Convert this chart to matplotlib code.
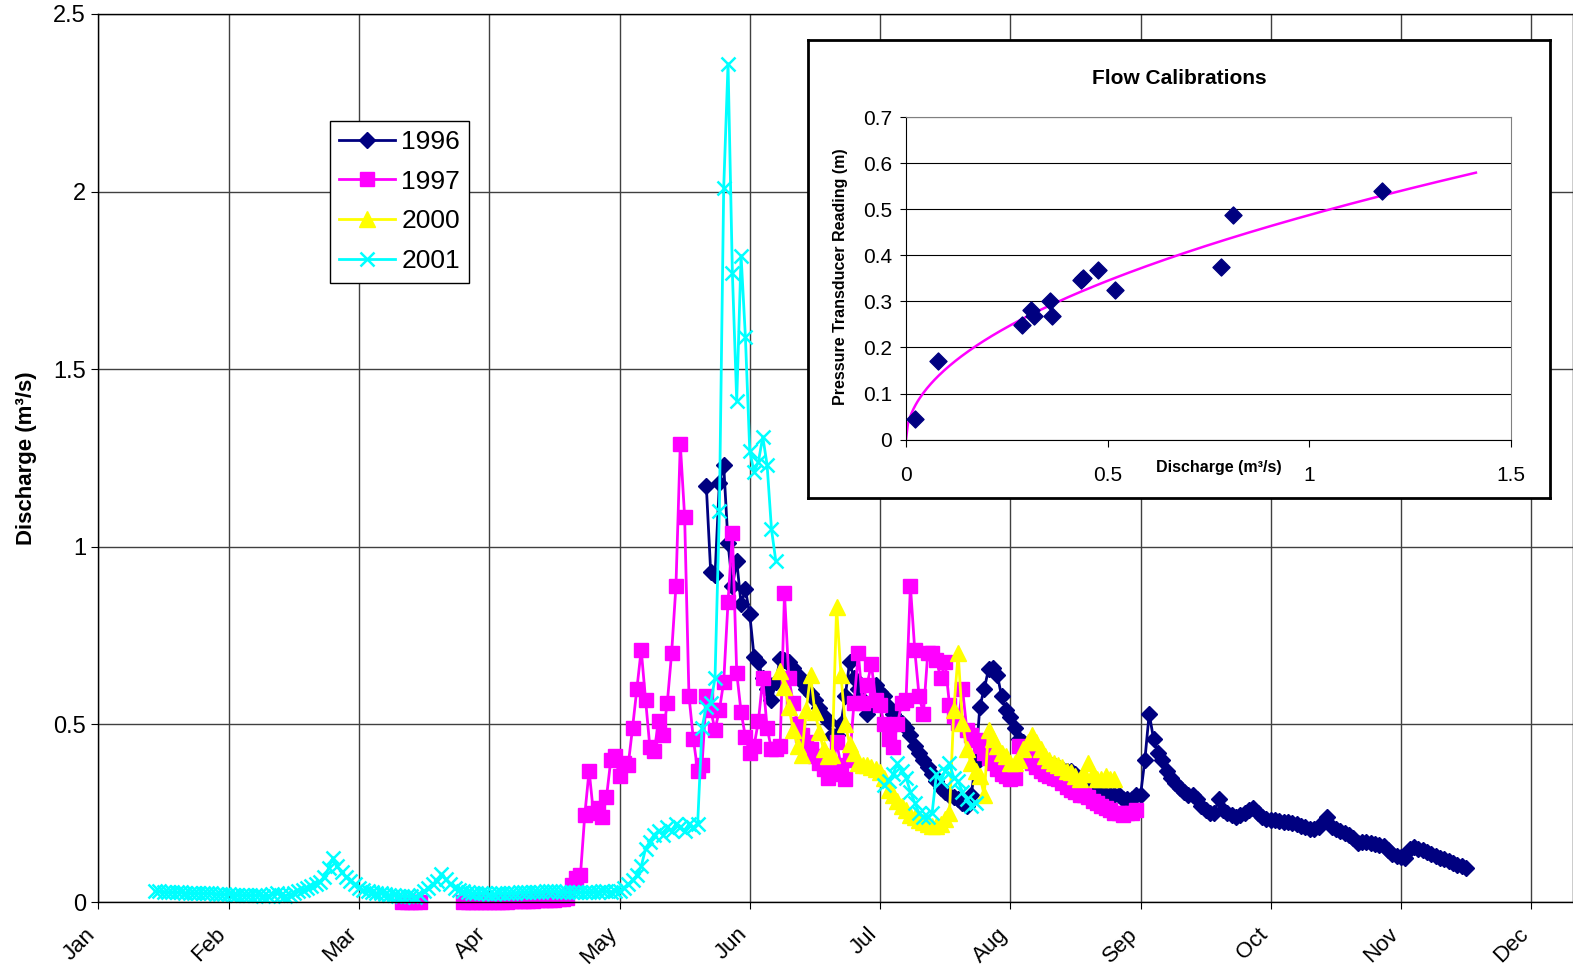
import numpy as np
import matplotlib
matplotlib.use("Agg")
from matplotlib import pyplot as plt

plt.rcParams['font.family'] = ['Liberation Sans', 'DejaVu Sans']

# month axis (days from 1 Jan, one tick every 30 days as in the original sheet)
months = ['Jan', 'Feb', 'Mar', 'Apr', 'May', 'Jun', 'Jul', 'Aug', 'Sep', 'Oct', 'Nov', 'Dec']
month_days = [0, 30, 60, 90, 120, 150, 180, 210, 240, 270, 300, 330]

# 1996 - daily discharge (m3/s) starting day 140
q1996_start = 140
q1996 = [1.17, 0.93, 0.92, 1.18, 1.23, 1.01, 0.89, 0.96, 0.84, 0.88,
         0.81, 0.69, 0.675, 0.63, 0.60, 0.57, 0.62, 0.685, 0.68, 0.675,
         0.66, 0.64, 0.62, 0.60, 0.585, 0.57, 0.545, 0.525, 0.51, 0.47,
         0.47, 0.50, 0.58, 0.675, 0.63, 0.60, 0.57, 0.53, 0.56, 0.61,
         0.59, 0.58, 0.55, 0.53, 0.51, 0.505, 0.49, 0.47, 0.44, 0.42,
         0.40, 0.38, 0.36, 0.34, 0.32, 0.31, 0.30, 0.295, 0.29, 0.28,
         0.27, 0.30, 0.39, 0.55, 0.60, 0.655, 0.66, 0.64, 0.58, 0.54,
         0.52, 0.49, 0.46, 0.45, 0.44, 0.43, 0.42, 0.41, 0.40, 0.39,
         0.385, 0.38, 0.375, 0.37, 0.37, 0.36, 0.35, 0.345, 0.335, 0.32,
         0.31, 0.31, 0.30, 0.30, 0.30, 0.30, 0.29, 0.29, 0.29, 0.30,
         0.30, 0.40, 0.53, 0.46, 0.42, 0.40, 0.37, 0.35, 0.335, 0.32,
         0.31, 0.30, 0.30, 0.29, 0.27, 0.26, 0.25, 0.25, 0.29, 0.26,
         0.25, 0.245, 0.24, 0.245, 0.25, 0.26, 0.265, 0.25, 0.24, 0.235,
         0.23, 0.23, 0.228, 0.226, 0.225, 0.222, 0.22, 0.215, 0.21, 0.205,
         0.205, 0.21, 0.225, 0.24, 0.21, 0.205, 0.20, 0.195, 0.19, 0.18,
         0.165, 0.17, 0.168, 0.165, 0.162, 0.16, 0.158, 0.145, 0.135, 0.13,
         0.128, 0.125, 0.15, 0.155, 0.15, 0.145, 0.14, 0.135, 0.13, 0.125,
         0.12, 0.115, 0.11, 0.105, 0.10, 0.095]

# 1997 - two runs of records
q1997a_start = 70
q1997a = [0.0, 0.0, 0.0, 0.0, 0.0]
q1997b_start = 84
q1997b = [0.0, 0.0, 0.0, 0.0, 0.0, 0.0, 0.0, 0.0, 0.0, 0.0,
          0.0, 0.002, 0.002, 0.003, 0.003, 0.004, 0.004, 0.005, 0.005, 0.006,
          0.006, 0.007, 0.008, 0.009, 0.010, 0.048, 0.068, 0.075, 0.245, 0.37,
          0.25, 0.265, 0.24, 0.295, 0.40, 0.41, 0.355, 0.39, 0.385, 0.49,
          0.60, 0.71, 0.57, 0.435, 0.425, 0.51, 0.47, 0.56, 0.70, 0.89,
          1.29, 1.085, 0.58, 0.46, 0.37, 0.385, 0.58, 0.54, 0.485, 0.54,
          0.62, 0.845, 1.04, 0.645, 0.535, 0.465, 0.42, 0.44, 0.51, 0.63,
          0.49, 0.43, 0.43, 0.44, 0.87, 0.63, 0.56, 0.50, 0.47, 0.45,
          0.43, 0.41, 0.39, 0.375, 0.35, 0.36, 0.45, 0.385, 0.345, 0.40,
          0.56, 0.70, 0.56, 0.61, 0.67, 0.57, 0.555, 0.50, 0.46, 0.435,
          0.50, 0.56, 0.57, 0.89, 0.71, 0.58, 0.53, 0.70, 0.70, 0.68,
          0.63, 0.675, 0.555, 0.525, 0.505, 0.60, 0.485, 0.47, 0.455, 0.44,
          0.42, 0.405, 0.39, 0.375, 0.36, 0.355, 0.345, 0.35, 0.44, 0.42,
          0.41, 0.39, 0.38, 0.37, 0.36, 0.355, 0.35, 0.345, 0.335, 0.325,
          0.315, 0.31, 0.30, 0.30, 0.295, 0.285, 0.28, 0.27, 0.265, 0.26,
          0.25, 0.25, 0.245, 0.25, 0.25, 0.26]

# 2000
q2000_start = 157
q2000 = [0.65, 0.605, 0.55, 0.485, 0.44, 0.415, 0.54, 0.64, 0.535, 0.48,
         0.43, 0.41, 0.415, 0.83, 0.64, 0.50, 0.445, 0.42, 0.39, 0.385,
         0.385, 0.38, 0.375, 0.365, 0.35, 0.315, 0.30, 0.285, 0.27, 0.26,
         0.245, 0.24, 0.23, 0.225, 0.22, 0.215, 0.215, 0.22, 0.235, 0.25,
         0.54, 0.70, 0.505, 0.43, 0.39, 0.37, 0.355, 0.30, 0.485, 0.46,
         0.44, 0.42, 0.41, 0.39, 0.39, 0.40, 0.43, 0.45, 0.47, 0.45,
         0.43, 0.41, 0.40, 0.39, 0.385, 0.38, 0.37, 0.365, 0.355, 0.345,
         0.36, 0.39, 0.36, 0.345, 0.345, 0.355, 0.345, 0.345]

# 2001 - two runs of records
q2001a_start = 13
q2001a = [0.030, 0.030, 0.029, 0.028, 0.028, 0.027, 0.027,
          0.026, 0.026, 0.025, 0.025, 0.024, 0.024, 0.024, 0.023, 0.023, 0.022,
          0.022, 0.021, 0.021, 0.020, 0.020, 0.020, 0.019, 0.019, 0.018, 0.018,
          0.022, 0.025, 0.020, 0.018, 0.020, 0.025, 0.030, 0.035, 0.040, 0.045,
          0.050, 0.055, 0.070, 0.095, 0.125, 0.100, 0.085, 0.070, 0.060, 0.050,
          0.040, 0.033, 0.030, 0.027, 0.025, 0.024, 0.022, 0.020, 0.020, 0.018,
          0.017, 0.016, 0.016, 0.015, 0.020, 0.030, 0.040, 0.050, 0.060, 0.078,
          0.065, 0.050, 0.040, 0.033, 0.030, 0.027, 0.025, 0.025, 0.024, 0.024,
          0.023, 0.023, 0.024, 0.025, 0.025, 0.026, 0.026, 0.027, 0.027, 0.028,
          0.028, 0.029, 0.029, 0.030, 0.030, 0.030, 0.029, 0.029, 0.028, 0.028,
          0.027, 0.027, 0.028, 0.028, 0.029, 0.029, 0.030, 0.030, 0.029, 0.030,
          0.032, 0.040, 0.050, 0.062, 0.075, 0.100, 0.150, 0.170, 0.190, 0.200,
          0.190, 0.210, 0.200, 0.220, 0.210, 0.200, 0.220, 0.210, 0.220, 0.490,
          0.550, 0.560, 0.630, 1.100, 2.010, 2.360, 1.770, 1.410, 1.820, 1.590,
          1.270, 1.210, 1.240, 1.310, 1.230, 1.050, 0.960]
q2001b_start = 181
q2001b = [0.33, 0.34, 0.36, 0.39, 0.37, 0.35, 0.31, 0.28, 0.25, 0.24, 0.24,
          0.25, 0.36, 0.34, 0.37, 0.39, 0.35, 0.34, 0.31, 0.29, 0.27, 0.28]

# flow calibration points (discharge m3/s, transducer reading m)
calib_q = [0.022, 0.079, 0.288, 0.309, 0.318, 0.357, 0.361, 0.433, 0.440,
           0.476, 0.517, 0.781, 0.810, 1.180]
calib_h = [0.045, 0.171, 0.249, 0.281, 0.268, 0.300, 0.268, 0.346, 0.350,
           0.369, 0.325, 0.375, 0.489, 0.541]
# power trendline shown on the chart: h = a * Q^b
trend_a = 0.488
trend_b = 0.5
trend_qmax = 1.413


def series(*runs):
    # join runs of daily values, leaving a break between them
    xs, ys = [], []
    for start, vals in runs:
        if xs:
            xs.append(np.nan)
            ys.append(np.nan)
        xs.extend(np.arange(start, start + len(vals)))
        ys.extend(vals)
    return np.array(xs, dtype=float), np.array(ys, dtype=float)


W, H = 1573, 972
fig = plt.figure(figsize=(W / 100, H / 100), dpi=100)
ax = fig.add_axes([98.5 / W, 70 / H, 1474 / W, 888 / H])

styles = [
    ('1996', series((q1996_start, q1996)), dict(color='#000080', marker='D', ms=8)),
    ('1997', series((q1997a_start, q1997a), (q1997b_start, q1997b)), dict(color='#FF00FF', marker='s', ms=10)),
    ('2000', series((q2000_start, q2000)), dict(color='#FFFF00', marker='^', ms=11.5)),
    ('2001', series((q2001a_start, q2001a), (q2001b_start, q2001b)), dict(color='#00FFFF', marker='x', ms=10, mew=1.8)),
]
for label, (x, y), st in styles:
    ax.plot(x, y, lw=2, label=label, clip_on=False, **st)

ax.set_xlim(0, 339.5)
ax.set_ylim(0, 2.5)
ax.set_xticks(month_days)
ax.set_xticklabels([])
# slanted month names, placed by hand so they sit like the spreadsheet ones
for d, m in zip(month_days, months):
    ax.annotate(m, xy=(d, 0), xycoords=('data', 'axes fraction'),
                xytext=(-4.3, -21), textcoords='offset points',
                rotation=45, ha='right', va='center', rotation_mode='anchor',
                fontsize=16, annotation_clip=False)
ax.set_yticks([0, 0.5, 1, 1.5, 2, 2.5])
ax.set_yticklabels(['0', '0.5', '1', '1.5', '2', '2.5'], fontsize=17)
ax.tick_params(axis='x', length=5)
ax.tick_params(axis='y', length=5, pad=4)
ax.grid(True, color='#404040', linewidth=1)
ax.set_axisbelow(True)
for sp in ax.spines.values():
    sp.set_color('black')
    sp.set_linewidth(1)
ax.text(-0.049, 0.5, 'Discharge (m³/s)', transform=ax.transAxes, rotation=90,
        ha='center', va='center', fontsize=16, fontweight='bold')

leg = ax.legend(loc='upper left', bbox_to_anchor=(0.157, 0.880), fontsize=19,
                frameon=True, fancybox=False, edgecolor='black', framealpha=1,
                handlelength=2.1, handletextpad=0.25, labelspacing=0.6,
                borderpad=0.35, borderaxespad=0)
leg.get_frame().set_linewidth(1)

# inset frame
box = fig.add_axes([807.5 / W, (H - 498.5) / H, 742.5 / W, 458.5 / H])
box.set_xticks([])
box.set_yticks([])
for sp in box.spines.values():
    sp.set_linewidth(2)
    sp.set_color('black')

ax_in = fig.add_axes([906 / W, (H - 439.5) / H, 605 / W, 322 / H])
ax_in.scatter(calib_q, calib_h, marker='D', s=75, color='#000080', zorder=3)
tq = np.linspace(0, trend_qmax, 300)
ax_in.plot(tq, trend_a * tq ** trend_b, color='#FF00FF', lw=1.8, zorder=2)
ax_in.set_xlim(0, 1.5)
ax_in.set_ylim(0, 0.7)
ax_in.set_xticks([0, 0.5, 1, 1.5])
ax_in.set_xticklabels(['0', '0.5', '1', '1.5'], fontsize=15)
ax_in.set_yticks(np.round(np.arange(0, 0.71, 0.1), 1))
ax_in.set_yticklabels(['0', '0.1', '0.2', '0.3', '0.4', '0.5', '0.6', '0.7'], fontsize=15)
ax_in.tick_params(axis='x', length=5, pad=14)
ax_in.tick_params(axis='y', length=4, pad=6)
ax_in.grid(True, axis='y', color='black', linewidth=0.8)
ax_in.set_axisbelow(True)
ax_in.spines['left'].set_color('black')
ax_in.spines['bottom'].set_color('black')
ax_in.spines['top'].set_color('#808080')
ax_in.spines['right'].set_color('#808080')
ax_in.text(0.451, 1.122, 'Flow Calibrations', transform=ax_in.transAxes,
           ha='center', va='center', fontsize=15, fontweight='bold')
ax_in.text(0.517, -0.087, 'Discharge (m³/s)', transform=ax_in.transAxes,
           ha='center', va='center', fontsize=11.5, fontweight='bold')
ax_in.text(-0.108, 0.505, 'Pressure Transducer Reading (m)', transform=ax_in.transAxes,
           rotation=90, ha='center', va='center', fontsize=11.5, fontweight='bold')

fig.savefig('out.png', dpi=100)
